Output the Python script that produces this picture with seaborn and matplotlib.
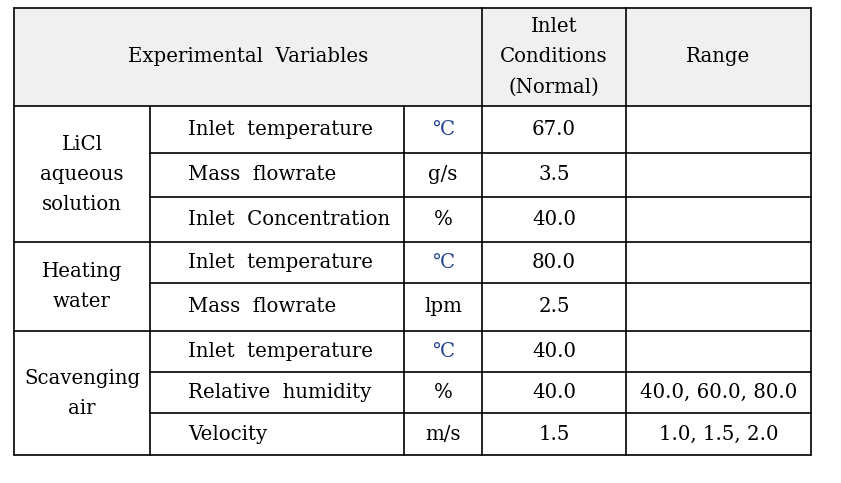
import matplotlib
matplotlib.use("Agg")
import matplotlib.pyplot as plt
from matplotlib.patches import Rectangle
import seaborn as sns

# table content
header_main = "Experimental  Variables"
header_normal = ["Inlet", "Conditions", "(Normal)"]
header_range = "Range"

groups = [["LiCl", "aqueous", "solution"], ["Heating", "water"], ["Scavenging", "air"]]
group_sizes = [3, 2, 3]
variables = ["Inlet  temperature", "Mass  flowrate", "Inlet  Concentration",
             "Inlet  temperature", "Mass  flowrate",
             "Inlet  temperature", "Relative  humidity", "Velocity"]
units = ["℃", "g/s", "%", "℃", "lpm", "℃", "%", "m/s"]
normal_values = ["67.0", "3.5", "40.0", "80.0", "2.5", "40.0", "40.0", "1.5"]
ranges = ["", "", "", "", "", "", "40.0, 60.0, 80.0", "1.0, 1.5, 2.0"]

# layout in pixels
col_edges = [14, 150, 404, 482, 626, 811]
row_edges = [8, 106, 153, 197, 242, 283, 331, 372, 413, 455]
line_gap = 30

sns.set_theme(style="white")
plt.rcParams['font.family'] = ['DejaVu Serif', 'DejaVu Sans']
fs = 14.2
lw = 1.2

fig = plt.figure(figsize=(8.41, 4.83), dpi=100)
ax = fig.add_axes([0, 0, 1, 1])
ax.set_xlim(0, 841)
ax.set_ylim(483, 0)
ax.axis("off")

def cx(i):
    return (col_edges[i] + col_edges[i + 1]) / 2

def cy(j):
    return (row_edges[j] + row_edges[j + 1]) / 2

def stacked(x, yc, lines):
    n = len(lines)
    for k, s in enumerate(lines):
        ax.text(x, yc + (k - (n - 1) / 2) * line_gap, s, ha="center", va="center",
                fontsize=fs, color="black")

# header background
ax.add_patch(Rectangle((col_edges[0], row_edges[0]), col_edges[-1] - col_edges[0],
                       row_edges[1] - row_edges[0], facecolor="#f0f0f0", edgecolor="none"))

# header text
ax.text((col_edges[0] + col_edges[3]) / 2, cy(0), header_main, ha="center", va="center",
        fontsize=fs, color="black")
stacked(cx(3), cy(0), header_normal)
ax.text(cx(4), cy(0), header_range, ha="center", va="center", fontsize=fs, color="black")

# body rows
for r in range(len(variables)):
    y = cy(r + 1)
    ax.text(col_edges[1] + 38, y, variables[r], ha="left", va="center", fontsize=fs, color="black")
    ucol = "#2a4690" if units[r] == "℃" else "black"
    ax.text(cx(2), y, units[r], ha="center", va="center", fontsize=fs, color=ucol)
    ax.text(cx(3), y, normal_values[r], ha="center", va="center", fontsize=fs, color="black")
    if ranges[r]:
        ax.text(cx(4), y, ranges[r], ha="center", va="center", fontsize=fs, color="black")

# group labels and group borders
start = 1
group_bounds = []
for g, n in zip(groups, group_sizes):
    top, bot = row_edges[start], row_edges[start + n]
    stacked(cx(0), (top + bot) / 2, g)
    group_bounds.append((start, start + n))
    start += n

# grid lines
x0, x1 = col_edges[0], col_edges[-1]
ax.plot([x0, x1], [row_edges[0], row_edges[0]], color="black", lw=lw)
ax.plot([x0, x1], [row_edges[1], row_edges[1]], color="black", lw=lw)
for (s, e) in group_bounds:
    ax.plot([x0, x1], [row_edges[e], row_edges[e]], color="black", lw=lw)
    for k in range(s + 1, e):
        ax.plot([col_edges[1], x1], [row_edges[k], row_edges[k]], color="black", lw=lw)

for i, x in enumerate(col_edges):
    top = row_edges[0] if i in (0, 3, 4, 5) else row_edges[1]
    ax.plot([x, x], [top, row_edges[-1]], color="black", lw=lw)

fig.savefig("out.png", dpi=100)
